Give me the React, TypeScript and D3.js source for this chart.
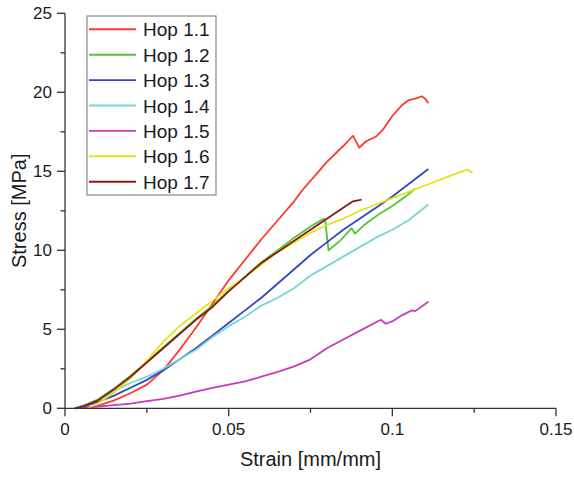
import React from "react";
import * as d3 from "d3";

const seriesNames = ["Hop 1.1", "Hop 1.2", "Hop 1.3", "Hop 1.4", "Hop 1.5", "Hop 1.6", "Hop 1.7"];
const seriesColors = ["#ff3a2a", "#4fc63a", "#3447c0", "#74d8d2", "#c43cc4", "#e6e21e", "#8a1a18"];

const hop11: [number, number][] = [
  [0.005, 0], [0.01, 0.15], [0.015, 0.5], [0.02, 0.95], [0.025, 1.5], [0.03, 2.4], [0.035, 3.7],
  [0.04, 5.1], [0.045, 6.6], [0.05, 8.1], [0.055, 9.4], [0.06, 10.7], [0.065, 11.9], [0.07, 13.1],
  [0.0725, 13.8], [0.075, 14.4], [0.0775, 15.0], [0.08, 15.6], [0.085, 16.6], [0.088, 17.25], [0.0886, 17.0], [0.0899, 16.5],
  [0.092, 16.9], [0.095, 17.2], [0.097, 17.6], [0.1, 18.5], [0.103, 19.2], [0.105, 19.5],
  [0.107, 19.6], [0.109, 19.75], [0.11, 19.6], [0.111, 19.3],
];
const hop12: [number, number][] = [
  [0.003, 0], [0.006, 0.2], [0.01, 0.55], [0.015, 1.25], [0.02, 2.05], [0.025, 2.95], [0.03, 3.85],
  [0.035, 4.75], [0.04, 5.65], [0.045, 6.5], [0.05, 7.45], [0.055, 8.35], [0.06, 9.25], [0.065, 10.0],
  [0.07, 10.8], [0.075, 11.5], [0.079, 12.0], [0.0795, 11.9], [0.0805, 10.0], [0.084, 10.6],
  [0.0876, 11.4], [0.0886, 11.05], [0.092, 11.7], [0.096, 12.3], [0.1, 12.8], [0.104, 13.4], [0.107, 13.9],
];
const hop13: [number, number][] = [
  [0.004, 0], [0.01, 0.4], [0.015, 0.8], [0.02, 1.3], [0.025, 1.8], [0.03, 2.4], [0.035, 3.1],
  [0.04, 3.8], [0.045, 4.6], [0.05, 5.4], [0.055, 6.2], [0.06, 7.0], [0.065, 7.9], [0.07, 8.8],
  [0.075, 9.7], [0.08, 10.5], [0.085, 11.3], [0.09, 12.0], [0.095, 12.7], [0.1, 13.4], [0.105, 14.2], [0.111, 15.15],
];
const hop14: [number, number][] = [
  [0.003, 0], [0.01, 0.5], [0.015, 1.1], [0.02, 1.6], [0.025, 2.0], [0.03, 2.5], [0.035, 3.1],
  [0.04, 3.7], [0.045, 4.5], [0.05, 5.2], [0.055, 5.8], [0.06, 6.5], [0.065, 7.0], [0.07, 7.6],
  [0.075, 8.4], [0.08, 9.0], [0.085, 9.6], [0.09, 10.2], [0.095, 10.8], [0.1, 11.3], [0.105, 11.9], [0.111, 12.9],
];
const hop15: [number, number][] = [
  [0.003, 0], [0.01, 0.1], [0.015, 0.2], [0.02, 0.3], [0.025, 0.45], [0.03, 0.6], [0.035, 0.8],
  [0.04, 1.05], [0.045, 1.3], [0.05, 1.5], [0.055, 1.7], [0.06, 2.0], [0.065, 2.3], [0.07, 2.65],
  [0.075, 3.1], [0.08, 3.8], [0.085, 4.35], [0.09, 4.9], [0.0965, 5.6], [0.098, 5.35], [0.1, 5.5],
  [0.103, 5.9], [0.106, 6.2], [0.107, 6.15], [0.111, 6.75],
];
const hop16: [number, number][] = [
  [0.007, 0], [0.01, 0.3], [0.015, 1.0], [0.02, 1.9], [0.025, 3.0], [0.03, 4.2], [0.035, 5.2],
  [0.04, 6.0], [0.045, 6.8], [0.05, 7.6], [0.055, 8.3], [0.06, 9.1], [0.065, 9.9], [0.07, 10.5],
  [0.075, 11.1], [0.08, 11.6], [0.085, 12.0], [0.09, 12.5], [0.095, 12.9], [0.1, 13.3], [0.105, 13.7],
  [0.11, 14.1], [0.115, 14.5], [0.12, 14.9], [0.123, 15.1], [0.1245, 14.9],
];
const hop17: [number, number][] = [
  [0.003, 0], [0.006, 0.15], [0.01, 0.5], [0.015, 1.2], [0.02, 2.0], [0.025, 2.9], [0.03, 3.8],
  [0.035, 4.7], [0.04, 5.6], [0.045, 6.4], [0.05, 7.4], [0.055, 8.3], [0.06, 9.2], [0.065, 9.9],
  [0.07, 10.6], [0.075, 11.3], [0.08, 12.0], [0.085, 12.7], [0.088, 13.1], [0.0906, 13.2],
];
const seriesData = [hop11, hop12, hop13, hop14, hop15, hop16, hop17];

const xMajorTicks = [0, 0.05, 0.1, 0.15];
const xTickLabels = ["0", "0.05", "0.1", "0.15"];
const xMinorTicks = [0.025, 0.075, 0.125];
const yMajorTicks = [0, 5, 10, 15, 20, 25];
const yMinorTicks = [2.5, 7.5, 12.5, 17.5, 22.5];

const W = 574;
const H = 477;
const left = 65;
const right = 556;
const top = 13.3;
const bottom = 408.3;
const axisColor = "#333";
const font = "Liberation Sans, Arial, sans-serif";

export default function App() {
  const x = d3.scaleLinear().domain([0, 0.15]).range([left, right]);
  const y = d3.scaleLinear().domain([0, 25]).range([bottom, top]);
  const line = d3.line<[number, number]>().x((d) => x(d[0])).y((d) => y(d[1]));

  const legX = 87;
  const legY = 16;
  const legW = 129;
  const legH = 179;
  const rowH = 25.4;

  return (
    <svg width={W} height={H} style={{ position: "absolute", left: 0, top: 0, background: "#fff" }}>
      <rect x={0} y={0} width={W} height={H} fill="#fff" />
      {seriesData.map((d, i) => (
        <path key={i} d={line(d) || ""} fill="none" stroke={seriesColors[i]} strokeWidth={1.8} strokeLinejoin="round" />
      ))}
      <line x1={left} x2={left} y1={top} y2={bottom} stroke={axisColor} strokeWidth={1.3} />
      <line x1={left} x2={right} y1={bottom} y2={bottom} stroke={axisColor} strokeWidth={1.3} />
      {xMajorTicks.map((t, i) => (
        <g key={"xm" + i}>
          <line x1={x(t)} x2={x(t)} y1={bottom} y2={bottom + 8} stroke={axisColor} strokeWidth={1.3} />
          <text x={x(t)} y={435} textAnchor="middle" fontFamily={font} fontSize={17} fill="#1a1a1a">
            {xTickLabels[i]}
          </text>
        </g>
      ))}
      {xMinorTicks.map((t, i) => (
        <line key={"xn" + i} x1={x(t)} x2={x(t)} y1={bottom} y2={bottom + 4.5} stroke={axisColor} strokeWidth={1.3} />
      ))}
      {yMajorTicks.map((t, i) => (
        <g key={"ym" + i}>
          <line x1={left - 8} x2={left} y1={y(t)} y2={y(t)} stroke={axisColor} strokeWidth={1.3} />
          <text x={52} y={y(t) + 6} textAnchor="end" fontFamily={font} fontSize={17} fill="#1a1a1a">
            {String(t)}
          </text>
        </g>
      ))}
      {yMinorTicks.map((t, i) => (
        <line key={"yn" + i} x1={left - 4.5} x2={left} y1={y(t)} y2={y(t)} stroke={axisColor} strokeWidth={1.3} />
      ))}
      <text x={(left + right) / 2} y={466} textAnchor="middle" fontFamily={font} fontSize={20} fill="#1a1a1a">
        Strain [mm/mm]
      </text>
      <text
        transform={`translate(26,${(top + bottom) / 2}) rotate(-90)`}
        textAnchor="middle"
        fontFamily={font}
        fontSize={20}
        fill="#1a1a1a"
      >
        Stress [MPa]
      </text>
      <rect x={legX} y={legY} width={legW} height={legH} fill="#fff" stroke="#888" strokeWidth={1.2} />
      {seriesNames.map((n, i) => {
        const cy = 29.3 + i * rowH;
        return (
          <g key={"lg" + i}>
            <line x1={89} x2={136} y1={cy} y2={cy} stroke={seriesColors[i]} strokeWidth={1.9} />
            <text x={143} y={cy + 7} fontFamily={font} fontSize={19} fill="#1a1a1a">
              {n}
            </text>
          </g>
        );
      })}
    </svg>
  );
}
